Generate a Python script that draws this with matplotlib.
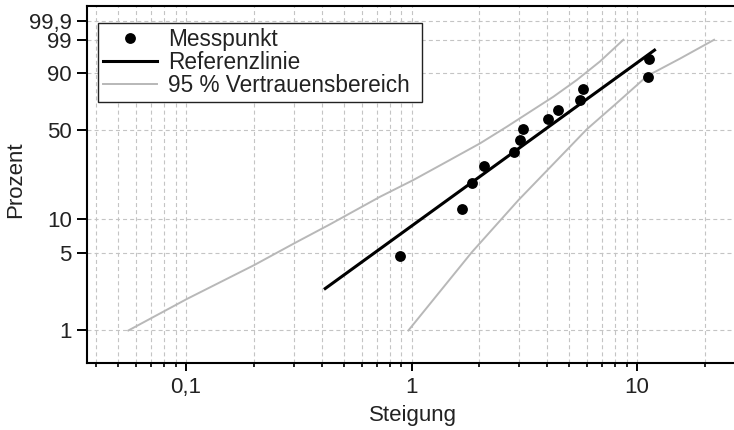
import numpy as np
import matplotlib
matplotlib.use("Agg")
import matplotlib.pyplot as plt
from matplotlib.lines import Line2D
from matplotlib.ticker import FixedLocator, FixedFormatter, NullLocator, LogLocator, NullFormatter

plt.rcParams["font.family"] = ["Liberation Sans", "DejaVu Sans"]

# Messpunkte
steigung = [0.889, 1.680, 1.860, 2.086, 2.840, 3.012, 3.112, 4.018, 4.464, 5.587, 5.779, 11.16, 11.30]
prozent = [4.7, 12.3, 20.0, 27.5, 35.0, 42.4, 50.2, 58.0, 65.3, 72.6, 80.5, 87.6, 95.3]

# Referenzlinie (Endpunkte)
ref_x = [0.409, 12.1]
ref_p = [2.36, 97.7]

# 95 % Vertrauensbereich
ci_upper_x = [0.0555, 0.1007, 0.201, 0.302, 0.435, 0.725, 1.018, 1.432, 2.013, 2.643, 3.354, 4.254, 5.403, 6.85, 8.69]
ci_upper_p = [1.0, 1.93, 3.92, 6.12, 8.99, 15.5, 21.3, 29.7, 40.5, 52.1, 63.6, 75.0, 86.1, 94.6, 99.0]
ci_lower_x = [0.968, 1.849, 2.976, 4.88, 5.98, 8.13, 11.08, 15.52, 21.95]
ci_lower_p = [1.0, 5.09, 14.5, 36.3, 50.2, 70.3, 88.3, 95.5, 99.0]

y_ticks = [1, 5, 10, 50, 90, 99, 99.9]
y_labels = ["1", "5", "10", "50", "90", "99", "99,9"]
x_ticks = [0.1, 1, 10]
x_labels = ["0,1", "1", "10"]


def weibull_fwd(p):
    p = np.clip(np.asarray(p, dtype=float), 1e-6, 100 - 1e-9)
    return np.log(-np.log(1 - p / 100.0))


def weibull_inv(w):
    return 100.0 * (1 - np.exp(-np.exp(np.asarray(w, dtype=float))))


text_col = "#222222"
grid_col = "#c4c4c4"

fig = plt.figure(figsize=(7.34, 4.30), dpi=100)
ax = fig.add_axes([86.5 / 734, 67 / 430, 647.5 / 734, 357 / 430])

ax.set_xscale("log")
ax.set_yscale("function", functions=(weibull_fwd, weibull_inv))
ax.set_xlim(0.0362, 26.9)
ax.set_ylim(0.5053, 99.9916)

ax.plot(ci_upper_x, ci_upper_p, color="#b8b8b8", lw=1.4, zorder=3)
ax.plot(ci_lower_x, ci_lower_p, color="#b8b8b8", lw=1.4, zorder=3)
ax.plot(ref_x, ref_p, color="black", lw=2.2, solid_capstyle="butt", zorder=4)
ax.plot(steigung, prozent, "o", color="black", ms=7.8, mew=0, zorder=5)

# Achsen
ax.xaxis.set_major_locator(FixedLocator(x_ticks))
ax.xaxis.set_major_formatter(FixedFormatter(x_labels))
ax.xaxis.set_minor_locator(LogLocator(base=10, subs=np.arange(2, 10)))
ax.xaxis.set_minor_formatter(NullFormatter())
ax.yaxis.set_major_locator(FixedLocator(y_ticks))
ax.yaxis.set_major_formatter(FixedFormatter(y_labels))
ax.yaxis.set_minor_locator(NullLocator())

ax.grid(True, which="both", axis="x", color=grid_col, lw=0.8, ls=(0, (3.6, 2.8)))
ax.grid(True, which="major", axis="y", color=grid_col, lw=0.8, ls=(0, (3.6, 2.8)))
ax.set_axisbelow(True)

for side in ("left", "bottom", "top"):
    ax.spines[side].set_linewidth(1.5)
    ax.spines[side].set_color("black")
ax.spines["right"].set_visible(False)

ax.tick_params(axis="x", which="major", direction="out", length=6, width=1.4,
               labelsize=16, pad=4, colors="black", labelcolor=text_col)
ax.tick_params(axis="x", which="minor", direction="out", length=3.2, width=1.2, colors="black")
ax.tick_params(axis="y", which="major", direction="out", length=7, width=1.4,
               labelsize=16, pad=3.5, colors="black", labelcolor=text_col)

ax.set_xlabel("Steigung", fontsize=16, color=text_col)
ax.set_ylabel("Prozent", fontsize=16, color=text_col)
ax.xaxis.set_label_coords(0.504, -0.146)
ax.xaxis.label.set_va("center")
ax.yaxis.set_label_coords(-0.109, 0.5126)
ax.yaxis.label.set_va("center")

handles = [
    Line2D([], [], ls="none", marker="o", color="black", ms=7.8, mew=0),
    Line2D([], [], color="black", lw=2.2),
    Line2D([], [], color="#b8b8b8", lw=1.4),
]
labels = ["Messpunkt", "Referenzlinie", "95 % Vertrauensbereich"]
leg = ax.legend(handles, labels, loc="upper left",
                bbox_to_anchor=(0.0173, 0.5, 0.501, 0.4515), mode="expand",
                borderaxespad=0, fontsize=16.3, frameon=True, fancybox=False,
                handlelength=2.4, handletextpad=0.5, borderpad=0.22,
                labelspacing=0.0, numpoints=1)
leg.get_frame().set_edgecolor("#222222")
leg.get_frame().set_linewidth(1.0)
leg.get_frame().set_alpha(1)
for t in leg.get_texts():
    t.set_color(text_col)

fig.savefig("out.png", dpi=100)
